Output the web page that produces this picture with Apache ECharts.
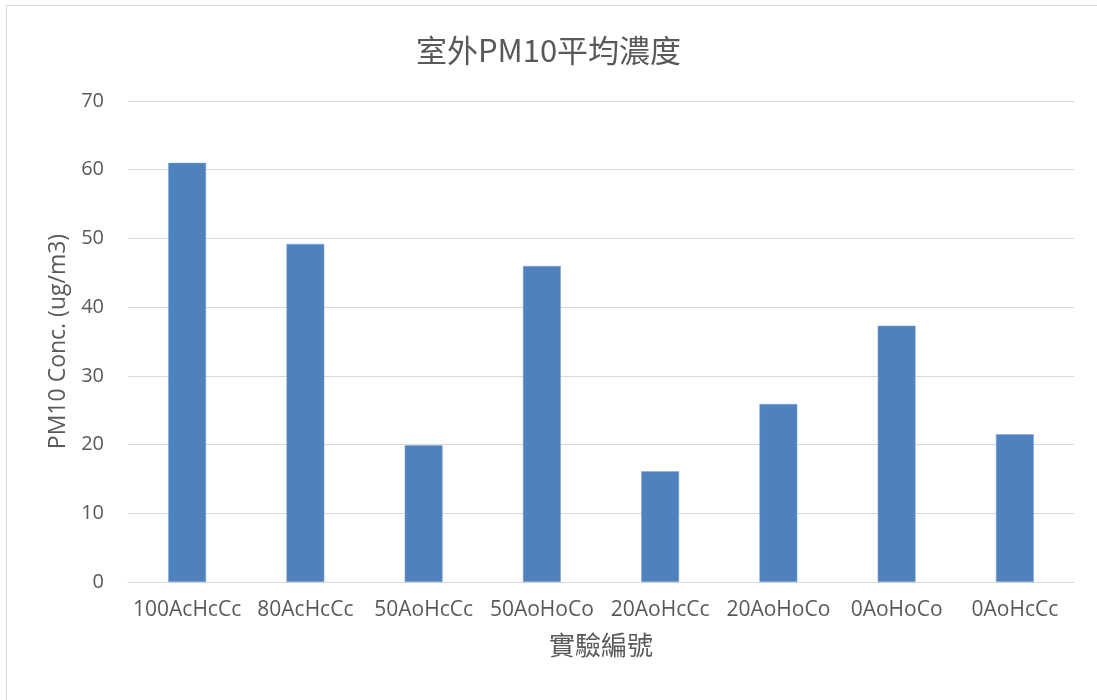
<!DOCTYPE html>
<html><head><meta charset="utf-8">
<script src="https://cdn.jsdelivr.net/npm/echarts@6/dist/echarts.min.js"></script>
<style>html,body{margin:0;padding:0;background:#fff}#c{width:1097px;height:700px}</style>
</head><body><div id="c"></div>
<script>
const categories = ['100AcHcCc','80AcHcCc','50AoHcCc','50AoHoCo','20AoHcCc','20AoHoCo','0AoHoCo','0AoHcCc'];
const values = [61.0, 49.2, 19.9, 46.0, 16.1, 25.9, 37.3, 21.5];
const yTicks = {min: 0, max: 70, interval: 10};
const chartTitle = '室外PM10平均濃度';
const xName = '實驗編號';
const yName = 'PM10 Conc. (ug/m3)';

const font = '"Open Sans", "Noto Sans CJK TC", sans-serif';
const cjk = '"Noto Sans CJK TC", "Open Sans", sans-serif';
const chart = echarts.init(document.getElementById('c'));
chart.setOption({
  animation: false,
  backgroundColor: '#fff',
  graphic: [{type:'rect', shape:{x:6.5,y:5.5,width:1200,height:800}, style:{fill:'none', stroke:'#d9d9d9', lineWidth:1}, silent:true}],
  title: {text: chartTitle, left: 'center', top: 30, textStyle: {fontFamily: cjk, fontSize: 31, fontWeight: 'normal', color: '#595959'}},
  grid: {left: 128, right: 23, top: 101, bottom: 118},
  xAxis: {
    type: 'category', data: categories,
    name: xName, nameLocation: 'middle', nameGap: 50,
    nameTextStyle: {fontFamily: cjk, fontSize: 26, color: '#595959'},
    axisLine: {lineStyle: {color: '#d9d9d9', width: 1}},
    axisTick: {show: false},
    axisLabel: {interval: 0, fontFamily: font, fontSize: 21, color: '#595959', margin: 18}
  },
  yAxis: {
    type: 'value', min: yTicks.min, max: yTicks.max, interval: yTicks.interval,
    name: yName, nameLocation: 'middle', nameGap: 58, nameRotate: 90,
    nameTextStyle: {fontFamily: font, fontSize: 23, color: '#595959'},
    axisLine: {show: false}, axisTick: {show: false},
    axisLabel: {fontFamily: font, fontSize: 20, color: '#595959', margin: 24},
    splitLine: {lineStyle: {color: '#d9d9d9', width: 1}}
  },
  series: [{type: 'bar', data: values, barWidth: '32%', itemStyle: {color: '#4f81bd', borderColor: '#7ea6d6', borderWidth: 0.5}}]
});
</script></body></html>
